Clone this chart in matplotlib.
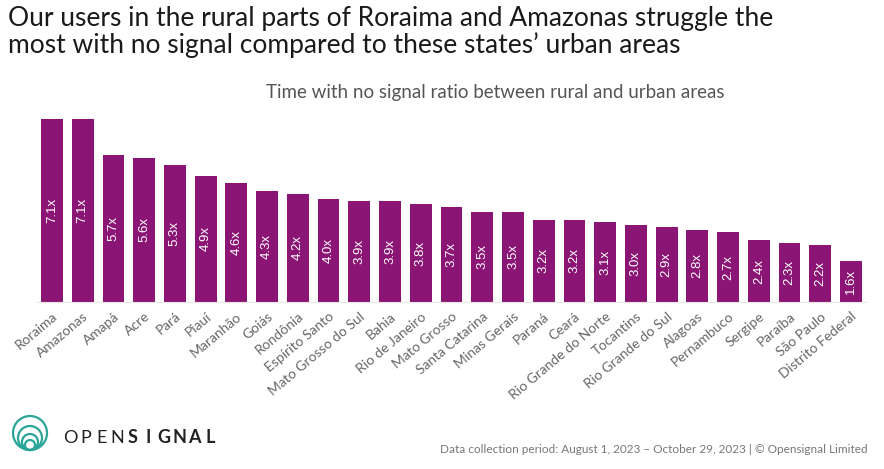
import matplotlib.pyplot as plt
from matplotlib.patches import Circle

states = ["Roraima", "Amazonas", "Amapá", "Acre", "Pará", "Piauí", "Maranhão",
          "Goiás", "Rondônia", "Espírito Santo", "Mato Grosso do Sul", "Bahia",
          "Rio de Janeiro", "Mato Grosso", "Santa Catarina", "Minas Gerais",
          "Paraná", "Ceará", "Rio Grande do Norte", "Tocantins",
          "Rio Grande do Sul", "Alagoas", "Pernambuco", "Sergipe", "Paraíba",
          "São Paulo", "Distrito Federal"]
ratios = [7.1, 7.1, 5.7, 5.6, 5.3, 4.9, 4.6, 4.3, 4.2, 4.0, 3.9, 3.9, 3.8, 3.7,
          3.5, 3.5, 3.2, 3.2, 3.1, 3.0, 2.9, 2.8, 2.7, 2.4, 2.3, 2.2, 1.6]

W, H = 884, 469
BAR = "#8B1574"
plt.rcParams['font.family'] = ['Lato', 'DejaVu Sans']

fig = plt.figure(figsize=(W / 100, H / 100), dpi=100)
ax = fig.add_axes([36.6 / W, (H - 302) / H, 829.8 / W, (302 - 119) / H])

x = range(len(states))
bars = ax.bar(x, ratios, width=0.71, color=BAR)
for b, v in zip(bars, ratios):
    ax.text(b.get_x() + b.get_width() / 2, v / 2, f"{v:.1f}x", rotation=90,
            ha='center', va='center', color='white', fontsize=9.5,
            family=['Liberation Sans', 'DejaVu Sans'])

ax.set_xlim(-0.5, len(states) - 0.5)
ax.set_ylim(0, 7.1)
ax.set_yticks([])
ax.set_xticks(list(x))
ax.set_xticklabels(states, rotation=40, ha='right', rotation_mode='anchor',
                   fontsize=10, color='#666666')
ax.tick_params(axis='x', length=0, pad=6)
for s in ['top', 'right', 'left']:
    ax.spines[s].set_visible(False)
ax.spines['bottom'].set_color('#e6e6e6')

fig.text(8 / W, 1 - 6 / H, "Our users in the rural parts of Roraima and Amazonas struggle the\n"
         "most with no signal compared to these states\u2019 urban areas",
         fontsize=19, color='#1a1a1a', ha='left', va='top', linespacing=1.05)
fig.text(495 / W, 1 - 98 / H, "Time with no signal ratio between rural and urban areas",
         fontsize=13.5, color='#555555', ha='center', va='baseline')
fig.text(868 / W, 1 - 453 / H,
         "Data collection period: August 1, 2023 \u2013 October 29, 2023 | \u00a9 Opensignal Limited",
         fontsize=8.5, color='#777777', ha='right', va='baseline')

# logo
teal = "#2aa597"
for r in [17, 12, 8, 5]:
    fig.patches.append(Circle((30, H - 450 + r), r, transform=None, fill=False,
                              edgecolor=teal, lw=1.6))
letters = "OPENSIGNAL"
for i, ch in enumerate(letters):
    fig.text((70 + i * 15.6) / W, 1 - 443 / H, ch, fontsize=13,
             fontweight='bold' if i >= 4 else 'normal', color='#222222',
             ha='center', va='baseline')

fig.savefig("out.png", dpi=100)
